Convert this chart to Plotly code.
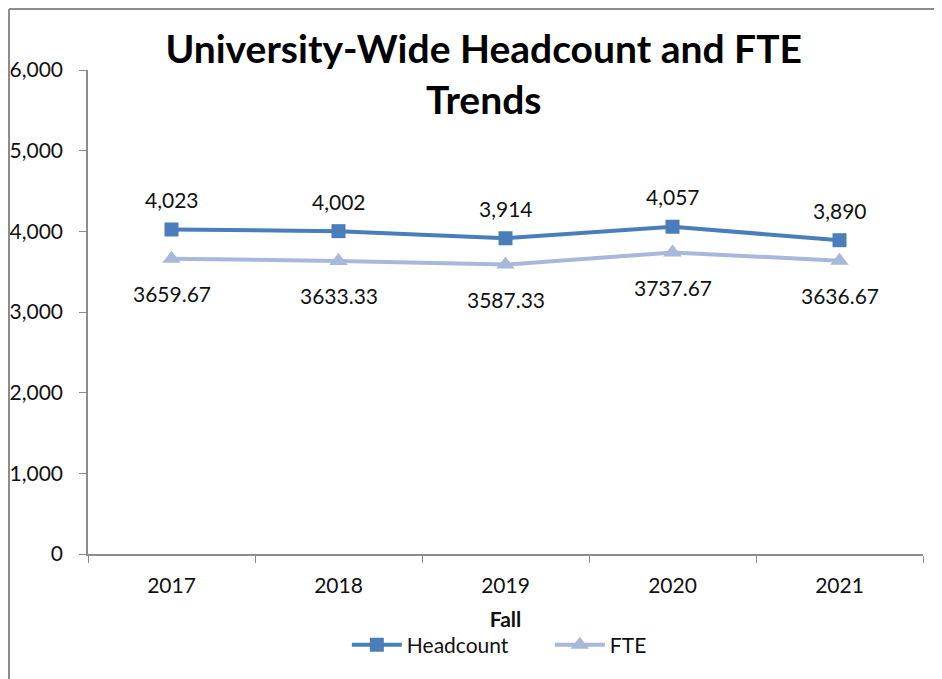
import plotly.graph_objects as go

# --- data ---
years = ["2017", "2018", "2019", "2020", "2021"]
headcount = [4023, 4002, 3914, 4057, 3890]
fte = [3659.67, 3633.33, 3587.33, 3737.67, 3636.67]
headcount_labels = ["4,023", "4,002", "3,914", "4,057", "3,890"]
fte_labels = ["3659.67", "3633.33", "3587.33", "3737.67", "3636.67"]
y_ticks = [0, 1000, 2000, 3000, 4000, 5000, 6000]

BLUE = "#4A7EBB"
LIGHT = "#A7B8DA"
GRAY = "#8C8C8C"
FONT = "Lato, Open Sans, sans-serif"

# page adds an 8px body margin, so the margins are shifted to compensate
W, H = 942, 679
L, R, T, B = 80, 27, 62, 133

xpos = list(range(len(years)))
bounds = [i - 0.5 for i in range(len(years) + 1)]

fig = go.Figure()
fig.add_trace(go.Scatter(
    x=xpos, y=headcount, name="Headcount", mode="lines+markers",
    line=dict(color=BLUE, width=4),
    marker=dict(symbol="square", size=14, color=BLUE),
))
fig.add_trace(go.Scatter(
    x=xpos, y=fte, name="FTE", mode="lines+markers",
    line=dict(color=LIGHT, width=4),
    marker=dict(symbol="triangle-up", size=16, color=LIGHT),
))

# data labels
for x, y, t in zip(xpos, headcount, headcount_labels):
    fig.add_annotation(x=x, y=y, text=t, showarrow=False, yshift=30,
                       font=dict(size=21, color="#111"))
for x, y, t in zip(xpos, fte, fte_labels):
    fig.add_annotation(x=x, y=y, text=t, showarrow=False, yshift=-35,
                       font=dict(size=21, color="#111"))

# outer chart frame (only top and left edges show in the crop)
pw, ph = W - L - R, H - T - B
fx0 = (1 - L) / pw
fy1 = 1 + (T - 1) / ph
fig.add_shape(type="line", xref="paper", yref="paper",
              x0=fx0, x1=1.2, y0=fy1, y1=fy1, line=dict(color=GRAY, width=2))
fig.add_shape(type="line", xref="paper", yref="paper",
              x0=fx0, x1=fx0, y0=fy1, y1=-0.4, line=dict(color=GRAY, width=2))

fig.update_layout(
    width=W, height=H,
    margin=dict(l=L, r=R, t=T, b=B, autoexpand=False),
    paper_bgcolor="white", plot_bgcolor="white",
    font=dict(family=FONT, size=21, color="#111"),
    title=dict(
        text="<b>University-Wide Headcount and FTE<br>Trends</b>",
        x=0.505, xanchor="center", y=0.919, yanchor="middle",
        font=dict(size=39, color="black"),
    ),
    showlegend=True,
    legend=dict(orientation="h", x=0.31, xanchor="left", y=-0.188, yanchor="middle",
                font=dict(size=21), tracegroupgap=0, itemwidth=50,
                entrywidth=138, entrywidthmode="pixels"),
)
fig.update_xaxes(
    range=[bounds[0], bounds[-1]], tickvals=xpos, ticktext=years, tickangle=0,
    showgrid=False, zeroline=False, showline=True, linecolor=GRAY, linewidth=1.5,
    ticks="", tickfont=dict(size=21), ticklabelstandoff=12,
    minor=dict(tickvals=bounds, ticks="outside", ticklen=7, tickcolor=GRAY, showgrid=False),
    title=dict(text="<b>Fall</b>", font=dict(size=21), standoff=16),
)
fig.update_yaxes(
    range=[0, 6000], tickvals=y_ticks,
    tickformat=",", showgrid=False, zeroline=False,
    showline=True, linecolor=GRAY, linewidth=1.5,
    ticks="outside", ticklen=7, tickcolor=GRAY, tickfont=dict(size=21),
    ticklabelstandoff=12,
)

fig.write_html("out.html")
